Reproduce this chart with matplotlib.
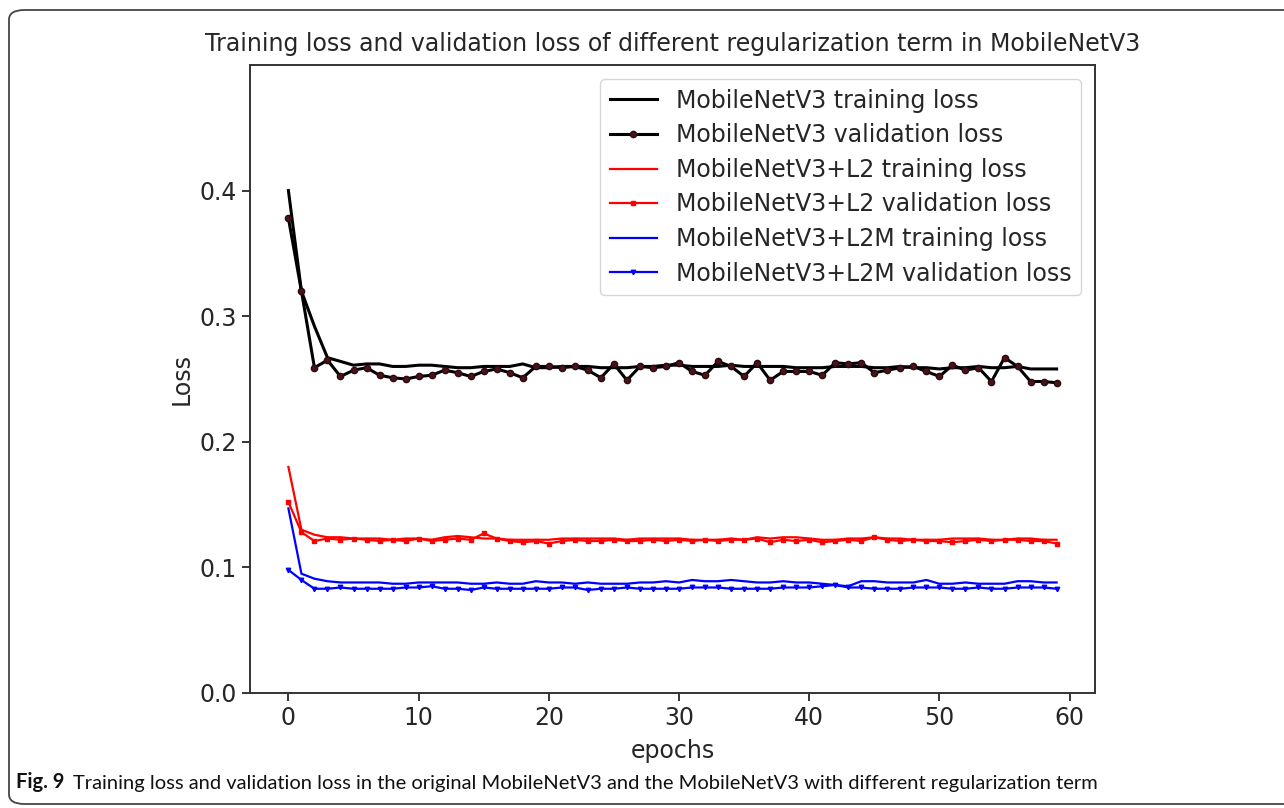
import numpy as np
import matplotlib.pyplot as plt
from matplotlib.patches import FancyBboxPatch

# epochs 0..59
epochs = np.arange(60)

base_train = [0.400, 0.320, 0.292, 0.267, 0.264, 0.261, 0.262, 0.262, 0.260, 0.260,
              0.261, 0.261, 0.260, 0.259, 0.259, 0.260, 0.260, 0.260, 0.262, 0.259,
              0.259, 0.260, 0.260, 0.260, 0.259, 0.259, 0.259, 0.260, 0.260, 0.261,
              0.261, 0.260, 0.260, 0.260, 0.261, 0.260, 0.260, 0.260, 0.260, 0.259,
              0.259, 0.259, 0.260, 0.260, 0.260, 0.259, 0.259, 0.260, 0.259, 0.259,
              0.258, 0.259, 0.259, 0.260, 0.259, 0.259, 0.260, 0.258, 0.258, 0.258]
base_val = [0.378, 0.320, 0.259, 0.265, 0.252, 0.257, 0.259, 0.253, 0.251, 0.250,
            0.252, 0.253, 0.257, 0.255, 0.252, 0.256, 0.258, 0.255, 0.251, 0.260,
            0.260, 0.259, 0.260, 0.257, 0.251, 0.262, 0.249, 0.260, 0.259, 0.260,
            0.263, 0.256, 0.253, 0.264, 0.260, 0.252, 0.263, 0.249, 0.256, 0.256,
            0.256, 0.253, 0.263, 0.262, 0.263, 0.255, 0.257, 0.259, 0.260, 0.256,
            0.252, 0.261, 0.257, 0.259, 0.248, 0.267, 0.260, 0.248, 0.248, 0.247]

l2_train = [0.180, 0.130, 0.126, 0.124, 0.124, 0.123, 0.123, 0.123, 0.122, 0.123,
            0.123, 0.122, 0.124, 0.125, 0.124, 0.123, 0.123, 0.122, 0.122, 0.122,
            0.122, 0.123, 0.123, 0.123, 0.123, 0.123, 0.122, 0.123, 0.123, 0.123,
            0.123, 0.122, 0.122, 0.122, 0.123, 0.122, 0.124, 0.123, 0.124, 0.124,
            0.123, 0.122, 0.122, 0.123, 0.123, 0.124, 0.123, 0.123, 0.122, 0.122,
            0.122, 0.123, 0.123, 0.123, 0.122, 0.122, 0.123, 0.123, 0.122, 0.122]
l2_val = [0.152, 0.128, 0.121, 0.123, 0.122, 0.123, 0.122, 0.121, 0.122, 0.121,
          0.123, 0.121, 0.122, 0.123, 0.122, 0.127, 0.123, 0.121, 0.120, 0.121,
          0.119, 0.121, 0.122, 0.121, 0.121, 0.122, 0.121, 0.121, 0.122, 0.121,
          0.122, 0.121, 0.122, 0.121, 0.122, 0.122, 0.123, 0.120, 0.122, 0.121,
          0.122, 0.120, 0.121, 0.122, 0.121, 0.124, 0.122, 0.121, 0.122, 0.121,
          0.121, 0.120, 0.121, 0.122, 0.121, 0.122, 0.122, 0.121, 0.121, 0.119]

l2m_train = [0.147, 0.095, 0.091, 0.089, 0.088, 0.088, 0.088, 0.088, 0.087, 0.087,
             0.088, 0.088, 0.088, 0.088, 0.087, 0.087, 0.088, 0.087, 0.087, 0.089,
             0.088, 0.088, 0.087, 0.088, 0.087, 0.087, 0.087, 0.088, 0.088, 0.089,
             0.088, 0.090, 0.089, 0.089, 0.090, 0.089, 0.088, 0.088, 0.089, 0.088,
             0.088, 0.087, 0.086, 0.085, 0.089, 0.089, 0.088, 0.088, 0.088, 0.090,
             0.087, 0.087, 0.088, 0.087, 0.087, 0.087, 0.089, 0.089, 0.088, 0.088]
l2m_val = [0.098, 0.090, 0.083, 0.083, 0.084, 0.083, 0.083, 0.083, 0.083, 0.084,
           0.084, 0.085, 0.083, 0.083, 0.082, 0.084, 0.083, 0.083, 0.083, 0.083,
           0.083, 0.084, 0.084, 0.082, 0.083, 0.083, 0.084, 0.083, 0.083, 0.083,
           0.083, 0.084, 0.084, 0.084, 0.083, 0.083, 0.083, 0.083, 0.084, 0.084,
           0.084, 0.085, 0.086, 0.084, 0.084, 0.083, 0.083, 0.083, 0.084, 0.084,
           0.084, 0.083, 0.083, 0.084, 0.083, 0.083, 0.084, 0.084, 0.084, 0.083]

tc = '#262626'
W, H = 1284, 808
fig = plt.figure(figsize=(W / 100, H / 100), dpi=100)
ax = fig.add_axes([250 / W, 1 - 693 / H, 845 / W, 628 / H])

ax.plot(epochs, base_train, color='black', lw=2.2, label='MobileNetV3 training loss')
ax.plot(epochs, base_val, color='black', lw=2.2, marker='o', ms=4.5,
        mfc='#4a1219', mec='#2a0a0d', label='MobileNetV3 validation loss')
ax.plot(epochs, l2_train, color='red', lw=1.6, label='MobileNetV3+L2 training loss')
ax.plot(epochs, l2_val, color='red', lw=1.6, marker='s', ms=3.2,
        label='MobileNetV3+L2 validation loss')
ax.plot(epochs, l2m_train, color='blue', lw=1.6, label='MobileNetV3+L2M training loss')
ax.plot(epochs, l2m_val, color='blue', lw=1.6, marker='v', ms=3.2,
        label='MobileNetV3+L2M validation loss')

ax.set_ylim(0, 0.5)
ax.set_xlim(-2.95, 61.95)
ax.set_xticks([0, 10, 20, 30, 40, 50, 60])
ax.set_yticks([0.0, 0.1, 0.2, 0.3, 0.4])
ax.tick_params(labelsize=17, colors=tc, length=6, width=1.3)
for s in ax.spines.values():
    s.set_linewidth(1.4)
    s.set_color('#333333')

ax.set_title('Training loss and validation loss of different regularization term in MobileNetV3',
             fontsize=17, color=tc, pad=10)
ax.set_xlabel('epochs', fontsize=17, color=tc, labelpad=6)
ax.set_ylabel('Loss', fontsize=17, color=tc)
leg = ax.legend(loc='upper right', fontsize=17, handlelength=2.0, labelspacing=0.45,
                borderaxespad=0.6, framealpha=0.8)
for t in leg.get_texts():
    t.set_color(tc)

# journal frame around the figure
frame = FancyBboxPatch((9 / W, 4 / H), 1.2, 1 - 14 / H, transform=fig.transFigure,
                       boxstyle='round,pad=0,rounding_size=0.012', fill=False,
                       lw=1.3, ec='#444444', clip_on=False)
fig.patches.append(frame)

cap_font = ['Lato', 'DejaVu Sans']
t1 = fig.text(16 / W, 1 - 788 / H, 'Fig. 9', fontsize=14.5, fontweight='bold',
              family=cap_font, color='#111111')
ax.annotate('Training loss and validation loss in the original MobileNetV3 and the '
            'MobileNetV3 with different regularization term',
            xy=(1, 0), xycoords=t1, xytext=(6, 0), textcoords='offset points',
            fontsize=14.5, family=cap_font, color='#111111', va='bottom',
            annotation_clip=False)

fig.savefig('out.png', dpi=100)
